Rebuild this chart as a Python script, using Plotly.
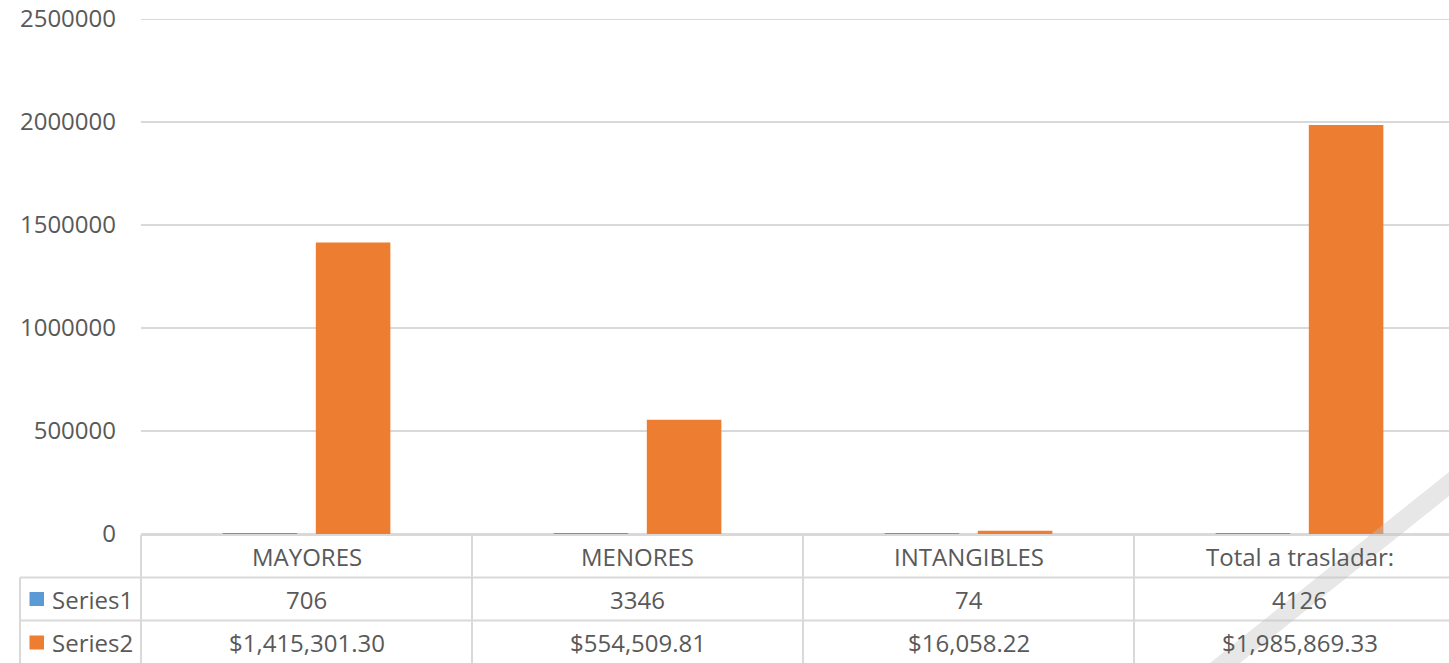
import plotly.graph_objects as go

categories = ["MAYORES", "MENORES", "INTANGIBLES", "Total a trasladar:"]
series1 = [706, 3346, 74, 4126]
series2 = [1415301.30, 554509.81, 16058.22, 1985869.33]
series_names = ["Series1", "Series2"]
y_ticks = [0, 500000, 1000000, 1500000, 2000000, 2500000]

W, H = 1449, 663
L, T, B = 141, 19, 129
PW = W - L
PH = H - T - B
CAT_W = 331.0
x_max = -0.5 + PW / CAT_W

BLUE = "#5B9BD5"
ORANGE = "#ED7D31"
TXT = "#595959"
GRID = "#D9D9D9"
FONT = "Open Sans"
FS = 24


def px_x(p):
    return (p - L) / PW


def px_y(p):
    return (H - B - p) / PH


def cat_x(v):
    return (v + 0.5) * CAT_W / PW


fig = go.Figure()
fig.add_trace(go.Bar(x=categories, y=series1, name=series_names[0],
                     marker=dict(color=BLUE, line=dict(width=0))))
fig.add_trace(go.Bar(x=categories, y=series2, name=series_names[1],
                     marker=dict(color=ORANGE, line=dict(width=0))))

shapes = []
line_style = dict(color=GRID, width=2)
# top gridline (range top)
shapes.append(dict(type="line", xref="paper", yref="y", x0=0, x1=1,
                   y0=y_ticks[-1], y1=y_ticks[-1], line=line_style, layer="below"))
# header top line (table top)
shapes.append(dict(type="line", xref="paper", yref="paper",
                   x0=px_x(141), x1=1.0, y0=px_y(535), y1=px_y(535), line=line_style))
for ry in [577.5, 620.5]:
    shapes.append(dict(type="line", xref="paper", yref="paper",
                       x0=px_x(20), x1=1.0, y0=px_y(ry), y1=px_y(ry), line=line_style))
# left borders
shapes.append(dict(type="line", xref="paper", yref="paper",
                   x0=px_x(20), x1=px_x(20), y0=px_y(577.5), y1=px_y(H), line=line_style))
for i in range(len(categories)):
    xb = cat_x(i - 0.5)
    if xb <= 1.0:
        shapes.append(dict(type="line", xref="paper", yref="paper",
                           x0=xb, x1=xb, y0=px_y(535), y1=px_y(H), line=line_style))
# legend keys
for color, cy in [(BLUE, 599), (ORANGE, 642.5)]:
    shapes.append(dict(type="rect", xref="paper", yref="paper",
                       x0=px_x(29.5), x1=px_x(44), y0=px_y(cy - 7), y1=px_y(cy + 7),
                       fillcolor=color, line=dict(width=0)))
# decorative swoosh in the bottom-right corner
pts = [(1449, 472), (1449, 496), (1240, 663), (1210, 663)]
path = "M " + " L ".join(f"{px_x(a):.5f},{px_y(b):.5f}" for a, b in pts) + " Z"
shapes.append(dict(type="path", xref="paper", yref="paper", path=path,
                   fillcolor="rgba(195,195,195,0.4)", line=dict(width=0), layer="above"))

annotations = []
font = dict(family=FONT, size=FS, color=TXT)
row_centers = [556, 599, 642]
for i, c in enumerate(categories):
    annotations.append(dict(x=c, xref="x", y=px_y(row_centers[0]), yref="paper",
                            text=c, showarrow=False, font=font,
                            xanchor="center", yanchor="middle"))
    annotations.append(dict(x=c, xref="x", y=px_y(row_centers[1]), yref="paper",
                            text=f"{series1[i]:d}", showarrow=False, font=font,
                            xanchor="center", yanchor="middle"))
    annotations.append(dict(x=c, xref="x", y=px_y(row_centers[2]), yref="paper",
                            text=f"${series2[i]:,.2f}", showarrow=False, font=font,
                            xanchor="center", yanchor="middle"))
for name, cy in zip(series_names, row_centers[1:]):
    annotations.append(dict(x=px_x(50), xref="paper", y=px_y(cy), yref="paper",
                            text=name, showarrow=False, font=font,
                            xanchor="left", yanchor="middle"))

fig.update_layout(
    width=W, height=H,
    margin=dict(l=L, r=0, t=T, b=B, pad=0),
    paper_bgcolor="white", plot_bgcolor="white",
    barmode="group", bargap=0.437, bargroupgap=0.2,
    showlegend=False,
    font=dict(family=FONT, size=FS, color=TXT),
    xaxis=dict(range=[-0.5, x_max], showticklabels=False, showgrid=False,
               zeroline=False, showline=False, ticks=""),
    yaxis=dict(range=[0, 2500000], tickvals=y_ticks,
               ticktext=[str(v) for v in y_ticks],
               showgrid=True, gridcolor=GRID, gridwidth=2,
               zeroline=True, zerolinecolor=GRID, zerolinewidth=2,
               showline=False, ticks="", ticklabelstandoff=24,
               tickfont=dict(family=FONT, size=FS, color=TXT)),
    shapes=shapes, annotations=annotations,
)

fig.write_html(
    "out.html",
    config={"displayModeBar": False},
    post_script="document.body.style.margin='0';document.body.style.overflow='hidden';",
)
